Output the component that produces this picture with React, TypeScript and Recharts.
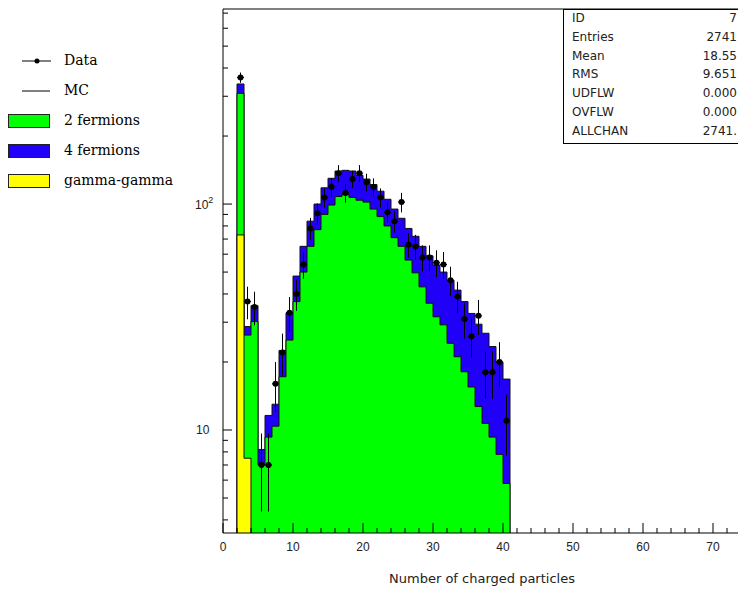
import {
  Area,
  ComposedChart,
  ErrorBar,
  Label,
  ReferenceLine,
  Scatter,
  XAxis,
  YAxis,
} from "recharts";

// histogram range (log y axis)
const Y_MIN = 3.5;
const Y_MAX = 730;
const X_MAX = 74;

// unit-width bins, the first one covers [2, 3)
const FIRST_BIN = 2;

// total MC (2f + 4f + gamma-gamma), per bin
const mcTotal = [
  340, 28.7, 35.5, 8.2, 11.6, 13, 22.5, 33, 48, 65, 84, 100, 118, 130, 140,
  141, 140, 134, 129, 122, 114, 105, 95, 86.5, 78, 72, 65, 59, 53.7, 50, 46,
  41.6, 37, 32.8, 29.4, 26.8, 23.4, 20, 16.8,
];

// 2 fermions + gamma-gamma, per bin
const twoFermions = [
  309, 26.3, 30.2, 7, 9.3, 10.4, 17.2, 25, 37, 50, 65, 77, 90, 99, 108, 110,
  107, 104, 102, 95, 88, 80, 71, 65, 56.5, 49.6, 43, 36.4, 31.7, 29.2, 24.2,
  21.1, 18.1, 15.5, 12.7, 10.7, 9.3, 7.8, 5.8,
];

// gamma-gamma only fills the two lowest bins
const gammaGamma = [73, 7.5];

// observed events per bin
const dataCounts = [
  363, 37, 35, 7, 7, 16, 22, 33, 40, 54, 78, 91, 107, 119, 137, 112, 129, 137,
  125, 119, 107, 92, 84, 102, 66, 65, 58, 58, 55, 54, 46, 39, 31, 26, 32, 18,
  18, 20, 11,
];

const xTicks = [
  0, 2, 4, 6, 8, 10, 12, 14, 16, 18, 20, 22, 24, 26, 28, 30, 32, 34, 36, 38,
  40, 42, 44, 46, 48, 50, 52, 54, 56, 58, 60, 62, 64, 66, 68, 70, 72, 74,
];
const yTicks = [
  4, 5, 6, 7, 8, 9, 10, 20, 30, 40, 50, 60, 70, 80, 90, 100, 200, 300, 400,
  500, 600, 700,
];

const stats = [
  ["ID", "7"],
  ["Entries", "2741"],
  ["Mean", "18.55"],
  ["RMS", "9.651"],
  ["UDFLW", "0.000"],
  ["OVFLW", "0.000"],
  ["ALLCHAN", "2741."],
];

const legendItems = [
  { name: "Data", kind: "data" },
  { name: "MC", kind: "line" },
  { name: "2 fermions", kind: "box", color: "#00ff00" },
  { name: "4 fermions", kind: "box", color: "#2000f6" },
  { name: "gamma-gamma", kind: "box", color: "#ffff00" },
];

// outline of a histogram as a stepAfter path, closed down to the axis
function stepRows(values: number[]) {
  const rows = [{ x: FIRST_BIN, y: Y_MIN }];
  values.forEach((v, i) => rows.push({ x: FIRST_BIN + i, y: v }));
  const end = FIRST_BIN + values.length;
  rows.push({ x: end, y: values[values.length - 1] });
  rows.push({ x: end, y: Y_MIN });
  return rows;
}

const points = dataCounts.map((n, i) => ({
  x: FIRST_BIN + i + 0.5,
  y: n,
  ey: Math.sqrt(n),
  ex: 0.5,
}));

const tickFont = "'Liberation Sans', Arial, sans-serif";

function YTick({ x, y, payload }: any) {
  const v = payload.value;
  const major = v === 10 || v === 100;
  return (
    <g>
      <line x1={x} x2={x + (major ? 9 : 5)} y1={y} y2={y} stroke="#000" />
      {v === 10 && (
        <text x={x - 27} y={y} dy={4.5} fontSize={12} fontFamily={tickFont} fill="#222">
          10
        </text>
      )}
      {v === 100 && (
        <text x={x - 28} y={y} dy={5} fontSize={12} fontFamily={tickFont} fill="#222">
          10
          <tspan dy={-6} fontSize={9}>
            2
          </tspan>
        </text>
      )}
    </g>
  );
}

function XTick({ x, y, payload }: any) {
  const v = payload.value;
  const major = v % 10 === 0;
  return (
    <g>
      <line x1={x} x2={x} y1={y} y2={y - (major ? 10 : 5)} stroke="#000" />
      {major && (
        <text x={x} y={y} dy={18} textAnchor="middle" fontSize={12} fontFamily={tickFont} fill="#222">
          {v}
        </text>
      )}
    </g>
  );
}

function DataPoint({ cx, cy }: any) {
  return <circle cx={cx} cy={cy} r={3} fill="#000" />;
}

function LegendPanel() {
  return (
    <svg width={200} height={210} style={{ position: "absolute", left: 0, top: 0 }}>
      {legendItems.map((item, i) => {
        const cy = 61 + i * 30;
        return (
          <g key={item.name}>
            {item.kind === "data" && (
              <>
                <line x1={22} x2={51} y1={cy} y2={cy} stroke="#000" />
                <circle cx={37} cy={cy} r={2.5} fill="#000" />
              </>
            )}
            {item.kind === "line" && <line x1={22} x2={50} y1={cy} y2={cy} stroke="#000" />}
            {item.kind === "box" && (
              <rect x={8.5} y={cy - 6.5} width={41} height={13} fill={item.color} stroke="#222" />
            )}
            <text
              x={64}
              y={cy}
              dy={4}
              fontSize={14}
              fontFamily="'DejaVu Serif', serif"
              fill="#000"
            >
              {item.name}
            </text>
          </g>
        );
      })}
    </svg>
  );
}

function StatsBox() {
  return (
    <div
      style={{
        position: "absolute",
        left: 563,
        top: 9,
        width: 190,
        height: 133,
        border: "1px solid #000",
        background: "#fff",
        fontFamily: "'DejaVu Sans', sans-serif",
        fontSize: 12,
        color: "#222",
      }}
    >
      {stats.map(([k, v], i) => (
        <div
          key={k}
          style={{ position: "absolute", left: 8, top: 1 + i * 18.8, width: 165, lineHeight: "14px" }}
        >
          <span>{k}</span>
          <span style={{ position: "absolute", right: 0 }}>{v}</span>
        </div>
      ))}
    </div>
  );
}

export default function App() {
  return (
    <div
      style={{
        position: "absolute",
        left: 0,
        top: 0,
        width: 738,
        height: 589,
        overflow: "hidden",
        background: "#fff",
      }}
    >
      <ComposedChart width={760} height={589} margin={{ top: 9, right: 19, bottom: 0, left: 0 }}>
        <Area
          data={stepRows(mcTotal)}
          dataKey="y"
          type="stepAfter"
          fill="#2000f6"
          fillOpacity={1}
          stroke="#111"
          strokeWidth={1}
          dot={false}
          activeDot={false}
          isAnimationActive={false}
        />
        <Area
          data={stepRows(twoFermions)}
          dataKey="y"
          type="stepAfter"
          fill="#00ff00"
          fillOpacity={1}
          stroke="#111"
          strokeWidth={1}
          dot={false}
          activeDot={false}
          isAnimationActive={false}
        />
        <Area
          data={stepRows(gammaGamma)}
          dataKey="y"
          type="stepAfter"
          fill="#ffff00"
          fillOpacity={1}
          stroke="#111"
          strokeWidth={1}
          dot={false}
          activeDot={false}
          isAnimationActive={false}
        />
        <Scatter data={points} shape={<DataPoint />} isAnimationActive={false}>
          <ErrorBar dataKey="ey" direction="y" width={0} stroke="#000" strokeWidth={1} />
          <ErrorBar dataKey="ex" direction="x" width={0} stroke="#000" strokeWidth={1} />
        </Scatter>
        <ReferenceLine y={Y_MAX} stroke="#000" />
        <XAxis
          dataKey="x"
          type="number"
          domain={[0, X_MAX]}
          allowDataOverflow
          ticks={xTicks}
          interval={0}
          height={56}
          tickSize={0}
          tickMargin={0}
          tickLine={false}
          axisLine={{ stroke: "#000" }}
          tick={<XTick />}
        >
          <Label
            value="Number of charged particles"
            position="insideBottom"
            offset={6}
            style={{ fontFamily: "'DejaVu Sans', sans-serif", fontSize: 13, fill: "#222" }}
          />
        </XAxis>
        <YAxis
          dataKey="y"
          type="number"
          scale="log"
          domain={[Y_MIN, Y_MAX]}
          allowDataOverflow
          ticks={yTicks}
          interval={0}
          width={223}
          tickSize={0}
          tickMargin={0}
          tickLine={false}
          axisLine={{ stroke: "#000" }}
          tick={<YTick />}
        />
      </ComposedChart>
      <LegendPanel />
      <StatsBox />
    </div>
  );
}
